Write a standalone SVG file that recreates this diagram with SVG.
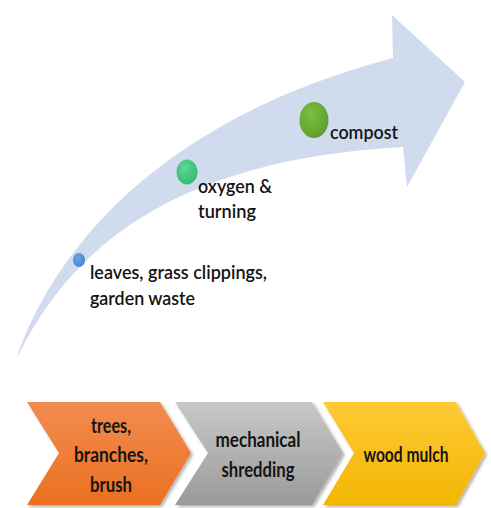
<svg xmlns="http://www.w3.org/2000/svg" width="491" height="508" viewBox="0 0 491 508">
<defs>
<linearGradient id="gOrange" x1="0" y1="0" x2="0" y2="1"><stop offset="0" stop-color="#f28c50"/><stop offset="1" stop-color="#ea7020"/></linearGradient>
<linearGradient id="gGray" x1="0" y1="0" x2="0" y2="1"><stop offset="0" stop-color="#c8c8c8"/><stop offset="1" stop-color="#9a9a9a"/></linearGradient>
<linearGradient id="gYellow" x1="0" y1="0" x2="0" y2="1"><stop offset="0" stop-color="#ffc938"/><stop offset="1" stop-color="#f2b600"/></linearGradient>
<radialGradient id="gBlue" cx="0.4" cy="0.35" r="0.7"><stop offset="0" stop-color="#6aa6e6"/><stop offset="1" stop-color="#3f83d0"/></radialGradient>
<radialGradient id="gTeal" cx="0.4" cy="0.35" r="0.7"><stop offset="0" stop-color="#5fd596"/><stop offset="1" stop-color="#34b96c"/></radialGradient>
<radialGradient id="gGreen" cx="0.4" cy="0.35" r="0.7"><stop offset="0" stop-color="#7fbf45"/><stop offset="1" stop-color="#5a9e2a"/></radialGradient>
<filter id="shadow" x="-10%" y="-10%" width="125%" height="125%"><feDropShadow dx="2" dy="2" stdDeviation="1.5" flood-color="#000" flood-opacity="0.3"/></filter>
</defs>
<style>
text{font-family:Lato,"Open Sans","Liberation Sans",sans-serif;fill:#141414;font-size:20px;font-weight:600}
.c{text-anchor:middle;font-weight:bold}
</style>
<rect width="491" height="508" fill="#fff"/>
<g id="connectors">
<path id="curved-arrow" d="M17,358 C40,290 120,130 393,58 L392,15 L465,82 L407,187 L403,147 C170,160 70,250 17,358 Z" fill="#d0dcee"/>
</g>
<g id="node-leaves">
<ellipse cx="79" cy="260" rx="6" ry="7" fill="url(#gBlue)"/>
<text x="90" y="279" textLength="177" lengthAdjust="spacingAndGlyphs">leaves, grass clippings,</text>
<text x="90" y="305" textLength="105" lengthAdjust="spacingAndGlyphs">garden waste</text>
</g>
<g id="node-oxygen">
<ellipse cx="187" cy="172" rx="10.5" ry="12.5" fill="url(#gTeal)"/>
<text x="198" y="193" textLength="74" lengthAdjust="spacingAndGlyphs">oxygen &amp;</text>
<text x="198" y="218" textLength="58" lengthAdjust="spacingAndGlyphs">turning</text>
</g>
<g id="node-compost">
<ellipse cx="314" cy="120" rx="14.5" ry="18" fill="url(#gGreen)"/>
<text x="330" y="139" textLength="68" lengthAdjust="spacingAndGlyphs">compost</text>
</g>
<g id="node-trees">
<path d="M27,402 L160,402 L191,453 L160,505 L27,505 L59,453 Z" fill="url(#gOrange)" filter="url(#shadow)"/>
<text class="c" x="111" y="433" textLength="40" lengthAdjust="spacingAndGlyphs">trees,</text>
<text class="c" x="111" y="462" textLength="74" lengthAdjust="spacingAndGlyphs">branches,</text>
<text class="c" x="111" y="492" textLength="42" lengthAdjust="spacingAndGlyphs">brush</text>
</g>
<g id="node-shredding">
<path d="M175,402 L312,402 L343,453 L312,505 L175,505 L208,453 Z" fill="url(#gGray)" filter="url(#shadow)"/>
<text class="c" x="258" y="447" textLength="85" lengthAdjust="spacingAndGlyphs">mechanical</text>
<text class="c" x="258" y="477" textLength="73" lengthAdjust="spacingAndGlyphs">shredding</text>
</g>
<g id="node-mulch">
<path d="M323,402 L456,402 L485,453 L456,505 L323,505 L354,453 Z" fill="url(#gYellow)" filter="url(#shadow)"/>
<text class="c" x="406" y="462" textLength="85" lengthAdjust="spacingAndGlyphs">wood mulch</text>
</g>
</svg>
